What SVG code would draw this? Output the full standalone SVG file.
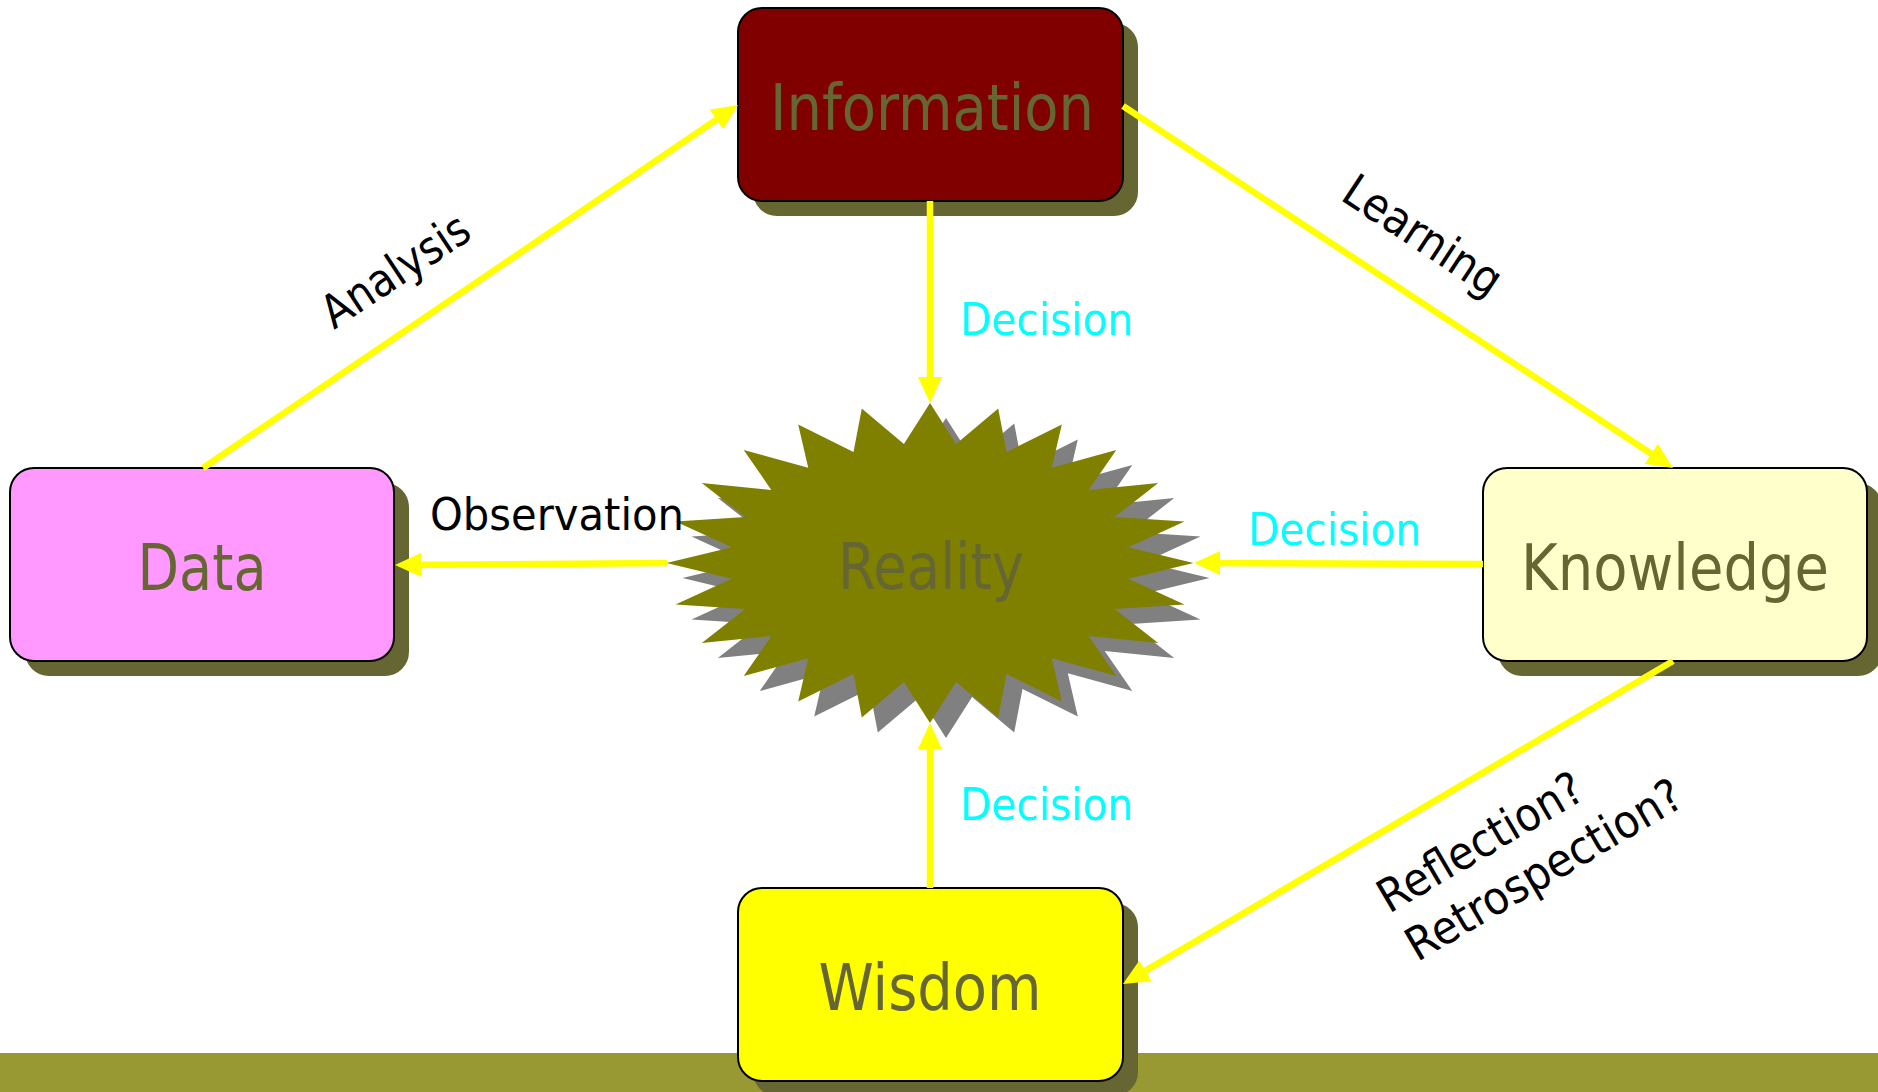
<svg xmlns="http://www.w3.org/2000/svg" xmlns:xlink="http://www.w3.org/1999/xlink" width="1878" height="1092" viewBox="0 0 1878 1092">
<style>
.box{stroke:#000;stroke-width:2}
.shadow{fill:#666633}
.ntext{font-family:"DejaVu Sans","Liberation Sans",sans-serif;font-size:64px;fill:#666633;text-anchor:middle}
.lbl{font-family:"DejaVu Sans","Liberation Sans",sans-serif;font-size:44px;fill:#000}
.rlbl{font-family:"DejaVu Sans","Liberation Sans",sans-serif;font-size:46px;fill:#000}
.dec{font-family:"DejaVu Sans","Liberation Sans",sans-serif;font-size:44px;fill:#00FFFF}
.conn{stroke:#FFFF00;stroke-width:6.5;fill:none;marker-end:url(#arr)}
</style>
<defs>
<marker id="arr" markerUnits="userSpaceOnUse" markerWidth="26" markerHeight="24" viewBox="0 0 26 24" refX="16" refY="12" orient="auto">
<path d="M0,0 L26,12 L0,24 z" fill="#FFFF00"/>
</marker>
<polygon id="star" points="930,403 956.1,444 998.2,408.5 1006.5,452.1 1061.8,424.4 1051.8,467.8 1116.3,449.9 1088.7,489.9 1158.2,483 1114.8,517.1 1184.5,521.6 1128.3,547.3 1193.5,563 1128.3,578.7 1184.5,604.4 1114.8,608.9 1158.2,643 1088.7,636.1 1116.3,676.1 1051.8,658.2 1061.8,701.6 1006.5,673.9 998.2,717.5 956.1,682 930,723 903.9,682 861.8,717.5 853.5,673.9 798.2,701.6 808.2,658.2 743.7,676.1 771.3,636.1 701.8,643 745.2,608.9 675.5,604.4 731.7,578.7 666.5,563 731.7,547.3 675.5,521.6 745.2,517.1 701.8,483 771.3,489.9 743.7,449.9 808.2,467.8 798.2,424.4 853.5,452.1 861.8,408.5 903.9,444"/>
</defs>
<rect x="0" y="1053" width="1878" height="39" fill="#999933"/>
<g id="reality">
<use xlink:href="#star" href="#star" transform="translate(16,15)" fill="#808080"/>
<use xlink:href="#star" href="#star" fill="#808000"/>
<text class="ntext" x="931" y="589" textLength="186" lengthAdjust="spacingAndGlyphs">Reality</text>
</g>
<g id="information">
<rect class="shadow" x="753" y="23" width="385" height="193" rx="24"/>
<rect class="box" x="738" y="8" width="385" height="193" rx="24" fill="#800000"/>
<text class="ntext" x="932" y="130" textLength="324" lengthAdjust="spacingAndGlyphs">Information</text>
</g>
<g id="data">
<rect class="shadow" x="25" y="483" width="384" height="193" rx="24"/>
<rect class="box" x="10" y="468" width="384" height="193" rx="24" fill="#FF99FF"/>
<text class="ntext" x="202" y="590" textLength="129" lengthAdjust="spacingAndGlyphs">Data</text>
</g>
<g id="knowledge">
<rect class="shadow" x="1498" y="483" width="384" height="193" rx="24"/>
<rect class="box" x="1483" y="468" width="384" height="193" rx="24" fill="#FFFFCC"/>
<text class="ntext" x="1675" y="590" textLength="308" lengthAdjust="spacingAndGlyphs">Knowledge</text>
</g>
<g id="wisdom">
<rect class="shadow" x="753" y="903" width="385" height="193" rx="24"/>
<rect class="box" x="738" y="888" width="385" height="193" rx="24" fill="#FFFF00"/>
<text class="ntext" x="930" y="1010" textLength="223" lengthAdjust="spacingAndGlyphs">Wisdom</text>
</g>
<g id="connectors">
<path class="conn" d="M203,468 L729.7,110.6"/>
<path class="conn" d="M1123,106 L1664.6,462.5"/>
<path class="conn" d="M930,201 L930,393"/>
<path class="conn" d="M1483,564 L1204,563"/>
<path class="conn" d="M667,563 L405,565"/>
<path class="conn" d="M930,888 L930,733"/>
<path class="conn" d="M1673,661 L1131.6,978.9"/>
</g>
<g id="labels">
<text class="rlbl" transform="translate(334,330) rotate(-33.5)" textLength="168" lengthAdjust="spacingAndGlyphs">Analysis</text>
<text class="rlbl" transform="translate(1339,199) rotate(33.4)" textLength="180" lengthAdjust="spacingAndGlyphs">Learning</text>
<text class="rlbl" transform="translate(1389,914) rotate(-30.4)"><tspan x="0" y="0" textLength="230" lengthAdjust="spacingAndGlyphs">Reflection?</tspan><tspan x="0" y="56" textLength="312" lengthAdjust="spacingAndGlyphs">Retrospection?</tspan></text>
<text class="lbl" x="430" y="530" textLength="254" lengthAdjust="spacingAndGlyphs">Observation</text>
<text class="dec" x="960" y="335" textLength="173" lengthAdjust="spacingAndGlyphs">Decision</text>
<text class="dec" x="1248" y="545" textLength="173" lengthAdjust="spacingAndGlyphs">Decision</text>
<text class="dec" x="960" y="820" textLength="173" lengthAdjust="spacingAndGlyphs">Decision</text>
</g>
</svg>
